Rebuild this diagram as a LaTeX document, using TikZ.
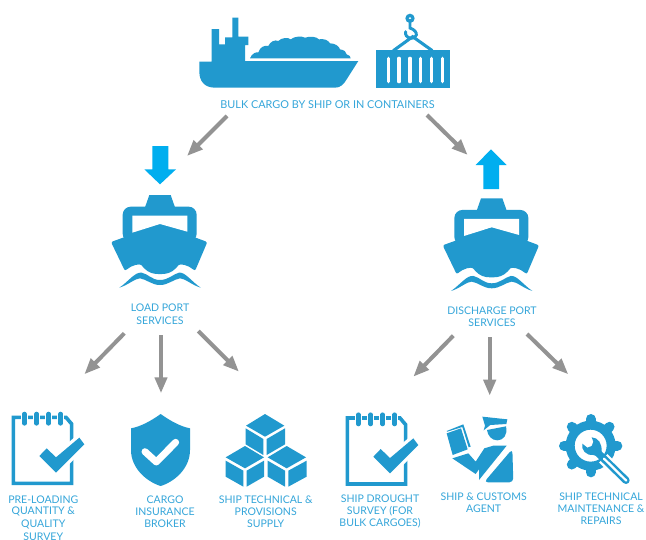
\documentclass[tikz,border=0pt]{standalone}
\usepackage{fontspec}
\setmainfont{Lato}
\usetikzlibrary{arrows.meta}
\definecolor{ib}{HTML}{2199CE}
\definecolor{tb}{HTML}{35A6DA}
\definecolor{ab}{HTML}{00AEEF}
\definecolor{gr}{HTML}{939393}
\tikzset{
  lbl/.style={text=tb,font=\fontsize{7.9pt}{9pt}\selectfont,inner sep=0pt,anchor=center},
  flow/.style={draw=gr,line width=3pt,-{Triangle[length=12pt,width=9pt]}},
  zoomed/.style={x=.25pt,y=-.25pt},
}
\newcommand{\shipicon}{%
  \fill[ib] (135,232) -- (148,195) -- (212,195) -- (225,232) -- cycle;
  \fill[ib,rounded corners=6pt] (68,335) -- (68,230) -- (290,230) -- (290,335) -- cycle;
  \fill[white] (97,257) -- (262,257) -- (262,305) -- (180,282) -- (97,308) -- cycle;
  \fill[ib,rounded corners=1.5pt] (33,336) -- (180,283) -- (322,336) -- (285,423)
     .. controls (265,405) and (240,400) .. (232,410) .. controls (215,428) and (200,432) .. (180,432)
     .. controls (160,432) and (145,428) .. (128,410) .. controls (120,400) and (95,405) .. (75,423) -- cycle;
  \fill[ib] (58,473) .. controls (85,455) and (105,425) .. (125,428) .. controls (145,432) and (155,450) .. (180,450)
     .. controls (205,450) and (220,432) .. (237,428) .. controls (255,425) and (275,455) .. (302,473)
     .. controls (275,465) and (255,445) .. (240,445) .. controls (220,448) and (205,465) .. (180,465)
     .. controls (155,465) and (140,448) .. (120,445) .. controls (105,445) and (85,465) .. (58,473) -- cycle;
}
\newcommand{\padicon}{%
  \draw[ib,line width=2.7pt,line join=miter] (40,52) -- (198,52) -- (215,72) -- (215,250) -- (40,250) -- cycle;
  \foreach \q in {73,110,146,182}{
    \draw[white,line width=4.8pt,line cap=round] (\q,40) -- (\q,73);
    \draw[ib,line width=3.4pt,line cap=round] (\q,42) -- (\q,70);
  }
  \draw[white,line width=5pt,line join=miter] (118,168) -- (140,145) -- (168,172) -- (238,113) -- (253,133) -- (168,218) -- cycle;
  \fill[ib] (118,168) -- (140,145) -- (168,172) -- (238,113) -- (253,133) -- (168,218) -- cycle;
}
\begin{document}
\begin{tikzpicture}[x=.75pt,y=-.75pt]
\useasboundingbox (0,0) rectangle (646,539);
\clip (0,0) rectangle (646,539);
\fill[white] (0,0) rectangle (646,539);

% bulk ship and container
\begin{scope}[shift={(190,0)},zoomed]
  \fill[ib] (28,185) -- (65,185) -- (65,87) -- (87,87) -- (87,133) -- (105,133) -- (105,112) -- (127,112) -- (127,53) -- (145,53) -- (145,110) -- (175,110) -- (175,135) -- (165,135) -- (165,183) -- (505,183) -- (470,238)
     .. controls (460,255) and (450,263) .. (435,263) -- (75,263) .. controls (45,263) and (28,245) .. (28,215) -- cycle;
  \fill[ib] (180,175) .. controls (185,160) and (200,155) .. (205,157)
     .. controls (210,140) and (225,135) .. (235,138)
     .. controls (240,125) and (255,118) .. (265,123)
     .. controls (275,112) and (295,112) .. (302,118)
     .. controls (315,108) and (335,108) .. (345,113)
     .. controls (360,108) and (380,110) .. (387,118)
     .. controls (400,115) and (415,120) .. (420,130)
     .. controls (435,130) and (447,138) .. (450,148)
     .. controls (462,150) and (470,155) .. (470,163)
     .. controls (478,165) and (482,170) .. (482,175) -- cycle;
  \fill[ib] (558,150) rectangle (780,263);
  \foreach \q in {595,627,660,692,725,757}
    \draw[white,line width=2.4pt,line cap=round] (\q,175) -- (\q,245);
  \draw[ib,line width=2.3pt] (610,152) -- (668,110) -- (727,152);
  \draw[ib,line width=2.2pt,line cap=round] (660,60) -- (660,84) .. controls (690,95) and (680,118) .. (662,115) .. controls (650,112) and (645,105) .. (647,95);
  \fill[ib,even odd rule] (660,55) circle (14) (660,55) circle (4.5);
\end{scope}
\node[lbl,font=\fontsize{8.15pt}{9pt}\selectfont] (bulk) at (327.5,105) {BULK CARGO BY SHIP OR IN CONTAINERS};

% load port
\begin{scope}[shift={(100,130)},zoomed]
  \shipicon
  \fill[ab] (157,48) -- (205,48) -- (205,118) -- (228,118) -- (180,163) -- (133,118) -- (157,118) -- cycle;
\end{scope}
\node[lbl] (load1) at (160,308) {LOAD PORT};
\node[lbl] (load2) at (160,320.5) {SERVICES};

% discharge port
\begin{scope}[shift={(431.7,133.3)},zoomed]
  \shipicon
\end{scope}
\begin{scope}[shift={(430,130)},zoomed]
  \fill[ab] (183,58) -- (230,105) -- (207,105) -- (207,177) -- (160,177) -- (160,105) -- (137,105) -- cycle;
\end{scope}
\node[lbl] (dis1) at (492,311) {DISCHARGE PORT};
\node[lbl] (dis2) at (492,323) {SERVICES};

% notepad 1, shield, cubes
\begin{scope}[shift={(0,400)},zoomed]
  \padicon
  \fill[ib] (482,42) .. controls (450,65) and (420,80) .. (393,85) -- (393,150)
     .. controls (393,205) and (440,245) .. (482,258)
     .. controls (524,245) and (570,205) .. (570,150) -- (570,85)
     .. controls (544,80) and (514,65) .. (482,42) -- cycle;
  \draw[white,line width=5.2pt,line cap=round,line join=round] (435,155) -- (469,186) -- (527,127);
  \fill[ib] (795,42) -- (853,77) -- (795,110) -- (738,77) -- cycle;
  \fill[ib] (737,85) -- (790,117) -- (790,165) -- (737,133) -- cycle;
  \fill[ib] (800,117) -- (855,85) -- (855,133) -- (800,165) -- cycle;
  \fill[ib] (735,138) -- (792,172) -- (735,205) -- (677,172) -- cycle;
  \fill[ib] (677,182) -- (730,212) -- (730,260) -- (677,230) -- cycle;
  \fill[ib] (792,182) -- (740,212) -- (740,260) -- (792,230) -- cycle;
  \fill[ib] (860,138) -- (918,172) -- (860,205) -- (803,172) -- cycle;
  \fill[ib] (803,182) -- (855,212) -- (855,260) -- (803,230) -- cycle;
  \fill[ib] (920,182) -- (865,212) -- (865,260) -- (920,230) -- cycle;
\end{scope}
\begin{scope}[shift={(334,400.7)},zoomed]
  \padicon
\end{scope}

% customs officer
\begin{scope}[shift={(435,405)},zoomed]
  \fill[ib] (142,35) -- (217,43) -- (214,57) -- (166,60) -- (146,76) -- (150,62) -- cycle;
  \fill[ib] (156,75) -- (213,64) .. controls (219,90) and (205,106) .. (187,106) .. controls (170,106) and (158,92) .. (156,75) -- cycle;
  \fill[ib] (35,85) -- (78,70) -- (98,133) -- (53,150) -- cycle;
  \fill[ib] (35,78) -- (85,58) -- (107,125) -- (101,127) -- (82,66) -- (37,80) -- cycle;
  \fill[ib] (52,160) -- (100,145) -- (122,170) -- (148,130) -- (175,122) -- (215,122) -- (132,225) -- (132,193) -- (122,207) -- cycle;
  \fill[ib,rounded corners=3pt] (147,232) -- (232,132) -- (235,232) -- cycle;
\end{scope}

% gear and wrench
\begin{scope}[shift={(550,405)},zoomed]
  \draw[ib,line width=6.75pt] (122,122) circle (61.5);
  \foreach \a in {0,45,...,315}
    \draw[ib,line width=7.5pt,line cap=round] (122,122) ++(\a:68) -- ++(\a:12);
  \draw[white,line width=9pt] (160,160) -- (245,245);
  \fill[ib] (97,116) .. controls (93,135) and (108,152) .. (130,150) -- (145,155) -- (155,140)
     .. controls (156,115) and (145,98) .. (125,97) -- (130,110) -- (125,123) -- (112,128) -- cycle;
  \draw[ib,line width=5.5pt,line cap=round] (145,145) -- (228,226);
  \draw[white,line width=1.7pt,line cap=round] (162,161) -- (229,227);
\end{scope}

\node[lbl] (p1) at (43.3,499.3) {PRE-LOADING};
\node[lbl] (p2) at (43.3,511.7) {QUANTITY \&};
\node[lbl] (p3) at (43.3,524) {QUALITY};
\node[lbl] (p4) at (43.3,536.7) {SURVEY};
\node[lbl] (c1) at (165,499.3) {CARGO};
\node[lbl] (c2) at (165,511.7) {INSURANCE};
\node[lbl] (c3) at (165,524) {BROKER};
\node[lbl] (s1) at (265.7,499.3) {SHIP TECHNICAL \&};
\node[lbl] (s2) at (265.7,511.7) {PROVISIONS};
\node[lbl] (s3) at (265.7,524) {SUPPLY};
\node[lbl] (d1) at (380,498.3) {SHIP DROUGHT};
\node[lbl] (d2) at (380,510.7) {SURVEY (FOR};
\node[lbl] (d3) at (380,522.7) {BULK CARGOES)};
\node[lbl] (a1) at (483.7,496.7) {SHIP \& CUSTOMS};
\node[lbl] (a2) at (483.7,508.3) {AGENT};
\node[lbl] (m1) at (601,496.7) {SHIP TECHNICAL};
\node[lbl] (m2) at (601,508.3) {MAINTENANCE \&};
\node[lbl] (m3) at (601,520.7) {REPAIRS};

% connectors
\coordinate (t1s) at (227,116); \coordinate (t1e) at (187,156);
\coordinate (t2s) at (427,115); \coordinate (t2e) at (467.7,155);
\coordinate (l1s) at (124.3,333.3); \coordinate (l1e) at (84.3,374.3);
\coordinate (l2s) at (161,335); \coordinate (l2e) at (161,393.3);
\coordinate (l3s) at (198.3,331); \coordinate (l3e) at (239,371.7);
\coordinate (r1s) at (453.3,335.7); \coordinate (r1e) at (413.3,376.7);
\coordinate (r2s) at (489.7,337.3); \coordinate (r2e) at (489.7,395.7);
\coordinate (r3s) at (527,334); \coordinate (r3e) at (568.3,374.3);
\foreach \q in {t1,t2,l1,l2,l3,r1,r2,r3}
  \draw[flow] (\q s) -- (\q e);
\end{tikzpicture}
\end{document}
